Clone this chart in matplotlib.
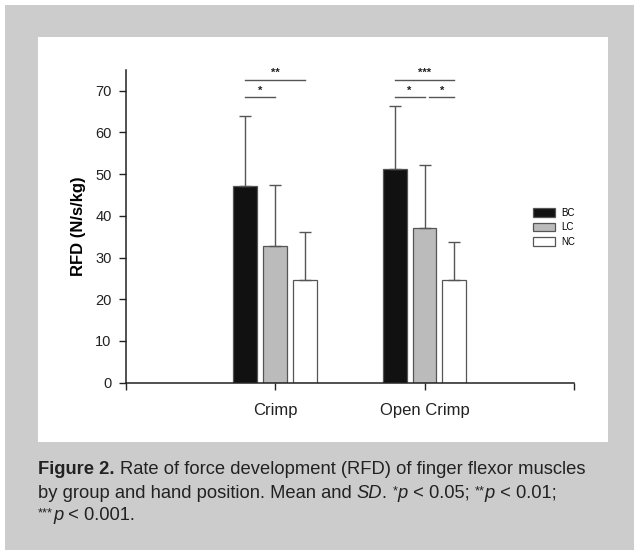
import numpy as np
import matplotlib
matplotlib.use("Agg")
import matplotlib.pyplot as plt
from matplotlib.patches import Rectangle, Patch

plt.rcParams['font.family'] = ['Liberation Sans', 'DejaVu Sans']

# data
positions = ['Crimp', 'Open Crimp']
groups = ['BC', 'LC', 'NC']
bc_mean = [47.1, 51.2]
bc_sd = [16.8, 15.2]
lc_mean = [32.7, 37.0]
lc_sd = [14.8, 15.2]
nc_mean = [24.5, 24.5]
nc_sd = [11.6, 9.2]

# significance brackets: (category, group from, group to, level, label)
sig_pairs = [(0, 0, 2, 72.7, '**'), (0, 0, 1, 68.4, '*'),
             (1, 0, 2, 72.7, '***'), (1, 0, 1, 68.4, '*'), (1, 1, 2, 68.4, '*')]

W, H = 634, 550
fig = plt.figure(figsize=(W / 100, H / 100), dpi=100)
fig.patch.set_facecolor('white')

def px(x0, y0, x1, y1):
    # pixel box (top-left origin) -> figure fraction rect
    return (x0 / W, 1 - y1 / H), (x1 - x0) / W, (y1 - y0) / H

xy, w, h = px(5, 4.5, 634, 550)
fig.patches.append(Rectangle(xy, w, h, transform=fig.transFigure,
                             facecolor='#cccccc', edgecolor='none', zorder=-2))
xy, w, h = px(38, 37, 608, 442)
fig.patches.append(Rectangle(xy, w, h, transform=fig.transFigure,
                             facecolor='white', edgecolor='none', zorder=-1))

ax = fig.add_axes([125.5 / W, 1 - 382.5 / H, (574 - 125.5) / W, (382.5 - 70) / H])
ax.set_facecolor('none')

x = np.array([1, 2])
offs = [-0.2, 0.0, 0.2]
width = 0.16
colors = ['#111111', '#bbbbbb', 'white']
means = [bc_mean, lc_mean, nc_mean]
sds = [bc_sd, lc_sd, nc_sd]

for i in range(3):
    ax.bar(x + offs[i], means[i], width, color=colors[i], edgecolor='#555555',
           linewidth=0.9, zorder=2)
    ax.errorbar(x + offs[i], means[i], yerr=[np.zeros(2), sds[i]], fmt='none',
                ecolor='#555555', elinewidth=1, capsize=4, capthick=1, zorder=3)

for cat, g0, g1, lev, lab in sig_pairs:
    x0 = x[cat] + offs[g0]
    x1 = x[cat] + offs[g1]
    if g0 == 1:
        x0 += 0.03
    ax.plot([x0, x1], [lev, lev], color='#555555', lw=1, clip_on=False)
    ax.text((x0 + x1) / 2, lev + 0.5, lab, ha='center', va='bottom',
            fontsize=8, fontweight='bold', color='#222222')

ax.set_xlim(0, 3)
ax.set_ylim(0, 75)
ax.set_yticks(range(0, 80, 10))
ax.set_xticks([0, 1, 2, 3])
ax.set_xticklabels(['', 'Crimp', 'Open Crimp', ''], fontsize=12)
ax.tick_params(axis='y', labelsize=10.5, length=5, width=1, pad=5, colors='#222222')
ax.tick_params(axis='x', length=5, width=1, pad=10, colors='#222222')
for s in ['top', 'right']:
    ax.spines[s].set_visible(False)
for s in ['left', 'bottom']:
    ax.spines[s].set_linewidth(1.1)
    ax.spines[s].set_color('#222222')
ax.set_ylabel('RFD (N/s/kg)', fontsize=12, fontweight='bold', labelpad=7)

handles = [Patch(facecolor=c, edgecolor='#555555', linewidth=0.9) for c in colors]
fig.legend(handles, groups, loc='upper left', bbox_to_anchor=(533 / W, 1 - 208 / H),
           frameon=False, fontsize=7, handlelength=2.3, handleheight=0.95,
           labelspacing=0.45, handletextpad=0.6, borderpad=0, borderaxespad=0)

# caption, drawn as runs of differently styled text
renderer = fig.canvas.get_renderer()
cap_size = 13.2

def caption_line(y_px, runs):
    xpos = 38.0
    for txt, style in runs:
        kw = dict(fontsize=cap_size, color='#222222', va='baseline', ha='left')
        yy = y_px
        if style == 'bold':
            kw['fontweight'] = 'bold'
        elif style == 'italic':
            kw['fontstyle'] = 'italic'
        elif style == 'sup':
            kw['fontsize'] = cap_size * 0.7
            yy = y_px - 4
        t = fig.text(xpos / W, 1 - yy / H, txt, **kw)
        xpos += t.get_window_extent(renderer).width

caption_line(474, [('Figure 2. ', 'bold'),
                   ('Rate of force development (RFD) of finger flexor muscles', 'plain')])
caption_line(498, [('by group and hand position. Mean and ', 'plain'), ('SD', 'italic'),
                   ('. ', 'plain'), ('*', 'sup'), ('p', 'italic'), (' < 0.05; ', 'plain'),
                   ('**', 'sup'), ('p', 'italic'), (' < 0.01;', 'plain')])
caption_line(520, [('***', 'sup'), ('p', 'italic'), (' < 0.001.', 'plain')])

fig.savefig('out.png', dpi=100, facecolor=fig.get_facecolor())
